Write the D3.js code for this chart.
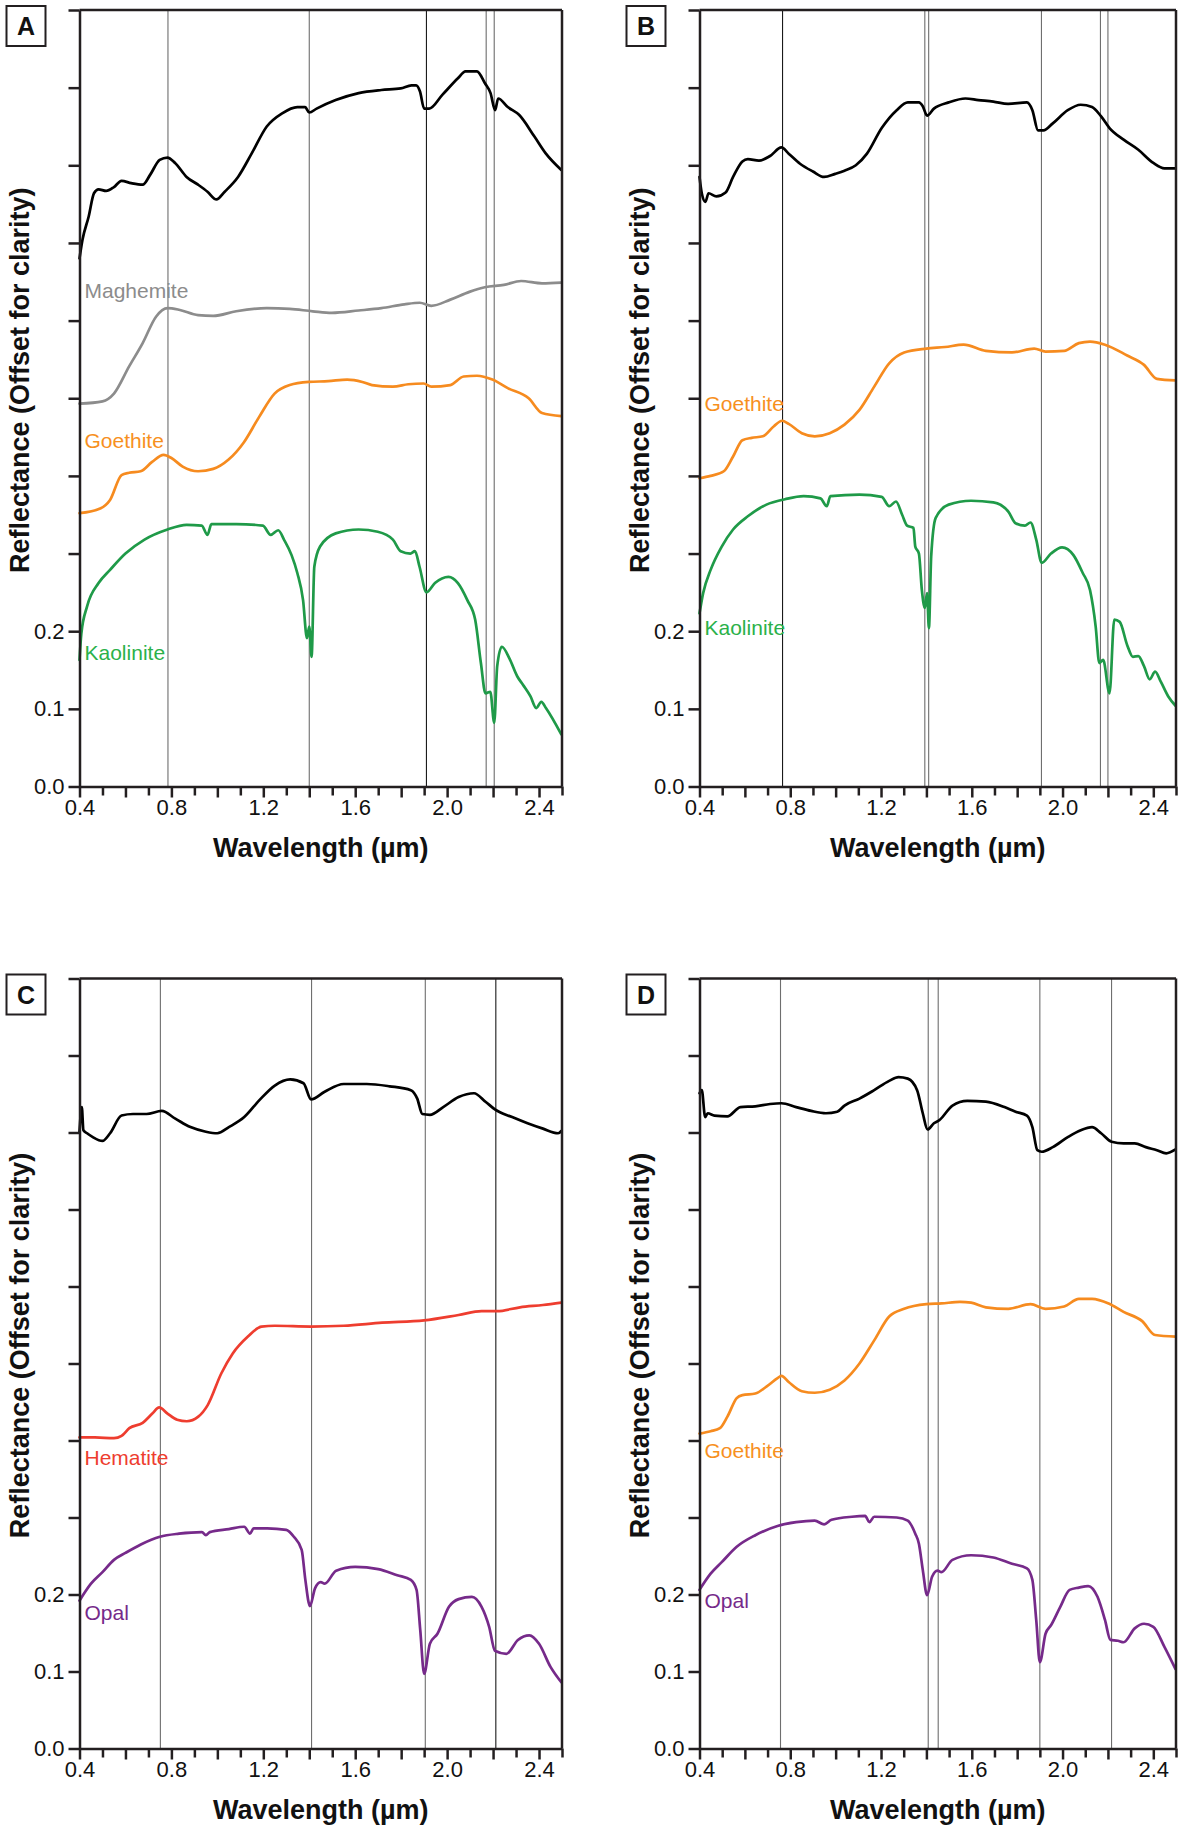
<!DOCTYPE html>
<html>
<head>
<meta charset="utf-8">
<script src="https://cdn.jsdelivr.net/npm/d3@7"></script>
<style>
  body { margin: 0; background: #fff; }
  svg { display: block; }
  text { font-family: "Liberation Sans", Arial, Helvetica, sans-serif; }
</style>
</head>
<body>
<div id="chart-area"></div>
<script>
// Reflectance spectra, four panels (offset for clarity)
// each series: [wavelength (um), offset reflectance]

var blackA = [[0.40,0.680],[0.413,0.704],[0.44,0.734],[0.463,0.764],[0.483,0.769],[0.516,0.767],[0.55,0.772],[0.583,0.780],[0.625,0.777],[0.675,0.775],[0.708,0.788],[0.749,0.807],[0.783,0.810],[0.816,0.803],[0.866,0.785],[0.916,0.775],[0.957,0.766],[0.996,0.756],[1.032,0.766],[1.09,0.785],[1.149,0.815],[1.215,0.850],[1.282,0.867],[1.348,0.875],[1.382,0.875],[1.40,0.868],[1.432,0.873],[1.515,0.884],[1.615,0.893],[1.714,0.897],[1.798,0.899],[1.845,0.903],[1.865,0.903],[1.882,0.895],[1.90,0.873],[1.922,0.873],[1.98,0.891],[2.047,0.912],[2.08,0.921],[2.13,0.921],[2.164,0.906],[2.189,0.893],[2.209,0.871],[2.222,0.886],[2.264,0.875],[2.313,0.865],[2.38,0.837],[2.43,0.815],[2.497,0.794]];

var maghemiteA = [[0.40,0.493],[0.50,0.496],[0.55,0.506],[0.616,0.541],[0.675,0.571],[0.733,0.605],[0.783,0.616],[0.833,0.614],[0.916,0.607],[0.982,0.606],[1.082,0.612],[1.215,0.616],[1.315,0.615],[1.415,0.612],[1.498,0.610],[1.615,0.613],[1.714,0.616],[1.814,0.621],[1.881,0.623],[1.931,0.619],[2.014,0.627],[2.097,0.637],[2.164,0.643],[2.247,0.646],[2.322,0.651],[2.413,0.648],[2.497,0.649]];

var goethiteA = [[0.40,0.352],[0.49,0.358],[0.533,0.369],[0.583,0.401],[0.616,0.404],[0.666,0.406],[0.716,0.418],[0.766,0.427],[0.80,0.423],[0.849,0.412],[0.916,0.406],[0.982,0.409],[1.049,0.421],[1.115,0.443],[1.182,0.476],[1.249,0.506],[1.315,0.517],[1.398,0.521],[1.482,0.522],[1.565,0.524],[1.631,0.521],[1.673,0.517],[1.764,0.515],[1.831,0.518],[1.898,0.519],[1.931,0.515],[2.014,0.517],[2.072,0.528],[2.13,0.529],[2.197,0.524],[2.264,0.513],[2.355,0.500],[2.413,0.481],[2.497,0.477]];

var kaoliniteA = [[0.40,0.163],[0.408,0.197],[0.433,0.232],[0.483,0.262],[0.533,0.279],[0.60,0.300],[0.683,0.318],[0.783,0.331],[0.866,0.337],[0.932,0.336],[0.957,0.324],[0.974,0.338],[1.082,0.338],[1.198,0.336],[1.232,0.324],[1.265,0.330],[1.29,0.318],[1.323,0.298],[1.348,0.275],[1.373,0.240],[1.39,0.191],[1.40,0.206],[1.41,0.167],[1.422,0.283],[1.447,0.309],[1.515,0.326],[1.615,0.331],[1.698,0.328],[1.764,0.318],[1.798,0.303],[1.84,0.300],[1.86,0.303],[1.88,0.283],[1.91,0.250],[1.947,0.262],[2.006,0.270],[2.047,0.262],[2.088,0.240],[2.122,0.215],[2.147,0.159],[2.167,0.120],[2.188,0.122],[2.205,0.082],[2.218,0.155],[2.238,0.180],[2.271,0.165],[2.305,0.142],[2.33,0.131],[2.363,0.116],[2.388,0.101],[2.41,0.109],[2.43,0.101],[2.497,0.067]];

var blackB = [[0.40,0.785],[0.41,0.764],[0.426,0.753],[0.44,0.764],[0.474,0.760],[0.515,0.765],[0.548,0.785],[0.589,0.805],[0.613,0.808],[0.662,0.806],[0.711,0.812],[0.761,0.823],[0.793,0.815],[0.843,0.802],[0.90,0.792],[0.949,0.785],[0.998,0.789],[1.039,0.793],[1.089,0.800],[1.138,0.815],[1.203,0.848],[1.269,0.871],[1.318,0.881],[1.367,0.881],[1.384,0.876],[1.403,0.864],[1.433,0.873],[1.498,0.881],[1.572,0.886],[1.629,0.884],[1.695,0.882],[1.76,0.879],[1.843,0.881],[1.867,0.871],[1.892,0.845],[1.916,0.845],[1.957,0.854],[2.023,0.871],[2.08,0.878],[2.13,0.875],[2.17,0.863],[2.207,0.848],[2.269,0.833],[2.334,0.820],[2.40,0.803],[2.449,0.796],[2.498,0.796]];

var goethiteB = [[0.40,0.397],[0.449,0.400],[0.507,0.406],[0.548,0.425],[0.589,0.446],[0.63,0.449],[0.679,0.451],[0.728,0.464],[0.764,0.471],[0.793,0.467],[0.851,0.455],[0.908,0.451],[0.974,0.455],[1.039,0.466],[1.105,0.485],[1.17,0.515],[1.236,0.545],[1.302,0.559],[1.40,0.564],[1.482,0.566],[1.564,0.569],[1.662,0.561],[1.777,0.559],[1.875,0.564],[1.925,0.560],[2.007,0.561],[2.072,0.571],[2.121,0.573],[2.187,0.569],[2.285,0.555],[2.359,0.543],[2.416,0.525],[2.498,0.523]];

var kaoliniteB = [[0.40,0.223],[0.416,0.249],[0.449,0.279],[0.498,0.309],[0.548,0.331],[0.613,0.348],[0.695,0.363],[0.777,0.370],[0.859,0.374],[0.933,0.371],[0.961,0.361],[0.977,0.374],[1.105,0.376],[1.203,0.373],[1.236,0.361],[1.266,0.367],[1.293,0.350],[1.315,0.336],[1.343,0.333],[1.351,0.309],[1.367,0.300],[1.38,0.253],[1.393,0.230],[1.403,0.249],[1.411,0.204],[1.421,0.296],[1.441,0.346],[1.498,0.363],[1.597,0.368],[1.695,0.366],[1.761,0.354],[1.793,0.339],[1.834,0.336],[1.859,0.340],[1.884,0.318],[1.908,0.288],[1.949,0.300],[1.998,0.308],[2.048,0.298],[2.089,0.275],[2.121,0.253],[2.146,0.206],[2.162,0.159],[2.179,0.163],[2.207,0.120],[2.228,0.215],[2.252,0.212],[2.285,0.182],[2.31,0.167],[2.334,0.168],[2.359,0.155],[2.384,0.138],[2.408,0.148],[2.433,0.135],[2.466,0.116],[2.498,0.104]];

var blackC = [[0.40,0.801],[0.41,0.833],[0.417,0.803],[0.433,0.799],[0.458,0.794],[0.50,0.789],[0.533,0.799],[0.583,0.822],[0.633,0.824],[0.692,0.824],[0.758,0.828],[0.817,0.818],[0.883,0.807],[0.95,0.801],[1.0,0.799],[1.05,0.807],[1.117,0.820],[1.183,0.842],[1.25,0.861],[1.317,0.869],[1.375,0.864],[1.408,0.843],[1.467,0.853],[1.55,0.863],[1.65,0.863],[1.75,0.860],[1.842,0.855],[1.87,0.844],[1.892,0.824],[1.925,0.823],[1.983,0.833],[2.05,0.846],[2.117,0.851],[2.167,0.840],[2.208,0.830],[2.283,0.820],[2.35,0.812],[2.417,0.805],[2.483,0.799],[2.497,0.802]];

var hematiteC = [[0.40,0.404],[0.467,0.404],[0.55,0.403],[0.583,0.406],[0.617,0.416],[0.675,0.423],[0.717,0.435],[0.747,0.443],[0.783,0.435],[0.825,0.427],[0.867,0.425],[0.917,0.431],[0.958,0.446],[1.017,0.487],[1.067,0.513],[1.133,0.535],[1.192,0.548],[1.25,0.549],[1.408,0.548],[1.55,0.549],[1.717,0.553],[1.90,0.556],[2.05,0.563],[2.15,0.568],[2.217,0.568],[2.317,0.573],[2.417,0.576],[2.497,0.579]];

var opalC = [[0.40,0.192],[0.45,0.214],[0.50,0.229],[0.55,0.245],[0.60,0.254],[0.667,0.265],[0.75,0.275],[0.833,0.279],[0.933,0.281],[0.95,0.277],[0.967,0.281],[1.05,0.285],[1.117,0.288],[1.142,0.279],[1.158,0.286],[1.217,0.286],[1.30,0.284],[1.333,0.275],[1.367,0.258],[1.383,0.219],[1.403,0.185],[1.425,0.208],[1.45,0.216],[1.467,0.214],[1.517,0.231],[1.60,0.236],[1.70,0.233],[1.783,0.225],[1.842,0.219],[1.867,0.206],[1.883,0.154],[1.90,0.097],[1.925,0.136],[1.958,0.149],[2.008,0.184],[2.05,0.194],[2.108,0.197],[2.15,0.184],[2.183,0.158],[2.208,0.127],[2.258,0.123],[2.308,0.141],[2.358,0.147],[2.40,0.136],[2.45,0.106],[2.497,0.086]];

var blackD = [[0.40,0.851],[0.41,0.855],[0.425,0.820],[0.436,0.825],[0.466,0.822],[0.523,0.821],[0.58,0.833],[0.646,0.834],[0.711,0.837],[0.761,0.838],[0.826,0.833],[0.892,0.828],[0.957,0.825],[1.007,0.827],[1.039,0.835],[1.105,0.844],[1.17,0.855],[1.236,0.867],[1.277,0.872],[1.318,0.870],[1.359,0.855],[1.384,0.825],[1.405,0.804],[1.433,0.812],[1.457,0.816],[1.515,0.835],[1.58,0.841],[1.662,0.840],[1.744,0.833],[1.793,0.827],[1.843,0.822],[1.867,0.807],[1.889,0.777],[1.908,0.775],[1.957,0.781],[2.023,0.794],[2.08,0.803],[2.13,0.807],[2.17,0.799],[2.216,0.788],[2.269,0.786],[2.318,0.786],[2.367,0.781],[2.416,0.777],[2.457,0.773],[2.498,0.778]];

var goethiteD = [[0.40,0.409],[0.449,0.412],[0.49,0.416],[0.523,0.431],[0.564,0.455],[0.589,0.459],[0.646,0.461],[0.695,0.470],[0.744,0.481],[0.761,0.484],[0.793,0.476],[0.851,0.464],[0.908,0.462],[0.974,0.466],[1.039,0.478],[1.105,0.500],[1.17,0.530],[1.236,0.561],[1.302,0.571],[1.40,0.577],[1.466,0.578],[1.548,0.580],[1.597,0.579],[1.662,0.573],[1.761,0.571],[1.859,0.577],[1.925,0.571],[2.007,0.574],[2.072,0.584],[2.13,0.584],[2.203,0.578],[2.269,0.567],[2.351,0.555],[2.408,0.537],[2.498,0.535]];

var opalD = [[0.40,0.206],[0.449,0.227],[0.498,0.242],[0.564,0.262],[0.646,0.277],[0.744,0.289],[0.826,0.294],[0.908,0.296],[0.949,0.291],[0.982,0.297],[1.072,0.301],[1.13,0.302],[1.149,0.294],[1.17,0.301],[1.269,0.300],[1.318,0.296],[1.351,0.279],[1.367,0.266],[1.384,0.232],[1.403,0.199],[1.425,0.223],[1.449,0.231],[1.466,0.229],[1.515,0.245],[1.597,0.251],[1.695,0.248],[1.777,0.240],[1.843,0.234],[1.867,0.219],[1.884,0.167],[1.90,0.112],[1.925,0.149],[1.949,0.160],[1.99,0.184],[2.031,0.206],[2.072,0.209],[2.113,0.211],[2.154,0.197],[2.187,0.167],[2.211,0.141],[2.244,0.140],[2.269,0.138],[2.318,0.156],[2.359,0.162],[2.40,0.158],[2.449,0.132],[2.498,0.103]];

// absorption feature markers (um)
var featuresA = [0.785, 1.40, 1.91, 2.17, 2.205];
var featuresB = [0.766, 1.393, 1.41, 1.907, 2.167, 2.20];
var featuresC = [0.752, 1.41, 1.905, 2.212];
var featuresD = [0.757, 1.408, 1.452, 1.90, 2.216];

var xTicks = d3.range(4, 26).map(function(d) { return d / 10; });
var yTicks = d3.range(0, 11).map(function(d) { return d / 10; });

var axisColor = "#231f20";

var panels = [
  { id: "A", left: 79.5, right: 562, top: 10, bottom: 786.5, features: featuresA, dark: [1.91],
    series: [
      { data: blackA, color: "#000" },
      { data: maghemiteA, color: "#8c8c8c", label: "Maghemite", labelColor: "#8c8c8c", labelAt: 0.629 },
      { data: goethiteA, color: "#f68b1f", label: "Goethite", labelColor: "#f7901e", labelAt: 0.436 },
      { data: kaoliniteA, color: "#1f9a48", label: "Kaolinite", labelColor: "#2bb14a", labelAt: 0.163 }
    ] },
  { id: "B", left: 699.5, right: 1176, top: 10, bottom: 786.5, features: featuresB, dark: [0.766],
    series: [
      { data: blackB, color: "#000" },
      { data: goethiteB, color: "#f68b1f", label: "Goethite", labelColor: "#f7901e", labelAt: 0.483 },
      { data: kaoliniteB, color: "#1f9a48", label: "Kaolinite", labelColor: "#2bb14a", labelAt: 0.195 }
    ] },
  { id: "C", left: 79.5, right: 562, top: 978.5, bottom: 1748.5, features: featuresC, dark: [2.212],
    series: [
      { data: blackC, color: "#000" },
      { data: hematiteC, color: "#ee3d2f", label: "Hematite", labelColor: "#ee3d2f", labelAt: 0.368 },
      { data: opalC, color: "#762a8a", label: "Opal", labelColor: "#762a8a", labelAt: 0.1675 }
    ] },
  { id: "D", left: 699.5, right: 1176, top: 978.5, bottom: 1748.5, features: featuresD, dark: [],
    series: [
      { data: blackD, color: "#000" },
      { data: goethiteD, color: "#f68b1f", label: "Goethite", labelColor: "#f7901e", labelAt: 0.377 },
      { data: opalD, color: "#762a8a", label: "Opal", labelColor: "#762a8a", labelAt: 0.1826 }
    ] }
];

var svg = d3.select("#chart-area")
    .append("svg")
    .attr("width", 1184)
    .attr("height", 1827);

panels.forEach(function(p) {

  var x = d3.scaleLinear().domain([0.4, 2.5]).range([p.left, p.right]);
  var y = d3.scaleLinear().domain([0, 1]).range([p.bottom, p.top]);

  var g = svg.append("g");

  // feature lines
  g.selectAll("line.feature")
      .data(p.features)
    .enter().append("line")
      .attr("class", "feature")
      .attr("x1", function(d) { return x(d); })
      .attr("x2", function(d) { return x(d); })
      .attr("y1", p.top)
      .attr("y2", p.bottom)
      .attr("stroke", function(d) { return p.dark.indexOf(d) >= 0 ? "#1a1a1a" : "#6e6e6e"; })
      .attr("stroke-width", 1.1);

  var line = d3.line()
      .x(function(d) { return x(d[0]); })
      .y(function(d) { return y(d[1]); })
      .curve(d3.curveMonotoneX);

  p.series.forEach(function(s) {
    g.append("path")
        .datum(s.data)
        .attr("fill", "none")
        .attr("stroke", s.color)
        .attr("stroke-width", 2.7)
        .attr("stroke-linejoin", "round")
        .attr("stroke-linecap", "round")
        .attr("d", line);

    if (s.label) {
      g.append("text")
          .attr("x", x(0.4) + 5)
          .attr("y", y(s.labelAt))
          .attr("fill", s.labelColor)
          .attr("font-size", 21)
          .text(s.label);
    }
  });

  // frame: top and right
  g.append("line")
      .attr("x1", p.left).attr("x2", p.right)
      .attr("y1", p.top).attr("y2", p.top)
      .attr("stroke", axisColor).attr("stroke-width", 2.5);
  g.append("line")
      .attr("x1", p.right).attr("x2", p.right)
      .attr("y1", p.top).attr("y2", p.bottom)
      .attr("stroke", axisColor).attr("stroke-width", 2.5);

  // x axis
  var xAxis = g.append("g")
      .attr("transform", "translate(0," + p.bottom + ")")
      .call(d3.axisBottom(x)
        .tickValues(xTicks)
        .tickSize(9)
        .tickSizeOuter(0)
        .tickPadding(4)
        .tickFormat(function(d) {
          var k = Math.round(d * 10);
          return (k % 4 === 0) ? d.toFixed(1) : "";
        }));
  xAxis.selectAll(".tick line")
      .attr("y2", function(d) { return Math.round(d * 10) % 2 === 0 ? 11 : 9; });

  // y axis
  var yAxis = g.append("g")
      .attr("transform", "translate(" + p.left + ",0)")
      .call(d3.axisLeft(y)
        .tickValues(yTicks)
        .tickSize(11)
        .tickSizeOuter(0)
        .tickPadding(4)
        .tickFormat(function(d) { return d < 0.25 ? d.toFixed(1) : ""; }));

  [xAxis, yAxis].forEach(function(a) {
    a.select(".domain").attr("stroke", axisColor).attr("stroke-width", 2.5);
    a.selectAll(".tick line").attr("stroke", axisColor).attr("stroke-width", 2.5);
    a.selectAll(".tick text")
        .attr("fill", "#111")
        .attr("font-size", 22)
        .style("font-family", '"Liberation Sans", Arial, sans-serif');
  });

  // axis titles
  g.append("text")
      .attr("x", (p.left + p.right) / 2)
      .attr("y", p.bottom + 70)
      .attr("text-anchor", "middle")
      .attr("font-size", 27)
      .attr("font-weight", "bold")
      .attr("fill", "#111")
      .text("Wavelength (\u00b5m)");

  g.append("text")
      .attr("transform", "translate(" + (p.left - 51) + "," + ((p.top + p.bottom) / 2 - 18) + ") rotate(-90)")
      .attr("text-anchor", "middle")
      .attr("font-size", 27)
      .attr("font-weight", "bold")
      .attr("fill", "#111")
      .text("Reflectance (Offset for clarity)");

  // panel letter
  g.append("rect")
      .attr("x", p.left - 73)
      .attr("y", p.top - 4)
      .attr("width", 39)
      .attr("height", 40)
      .attr("fill", "none")
      .attr("stroke", axisColor)
      .attr("stroke-width", 2);
  g.append("text")
      .attr("x", p.left - 53.5)
      .attr("y", p.top + 25)
      .attr("text-anchor", "middle")
      .attr("font-size", 25)
      .attr("font-weight", "bold")
      .attr("fill", "#111")
      .text(p.id);
});
</script>
</body>
</html>
